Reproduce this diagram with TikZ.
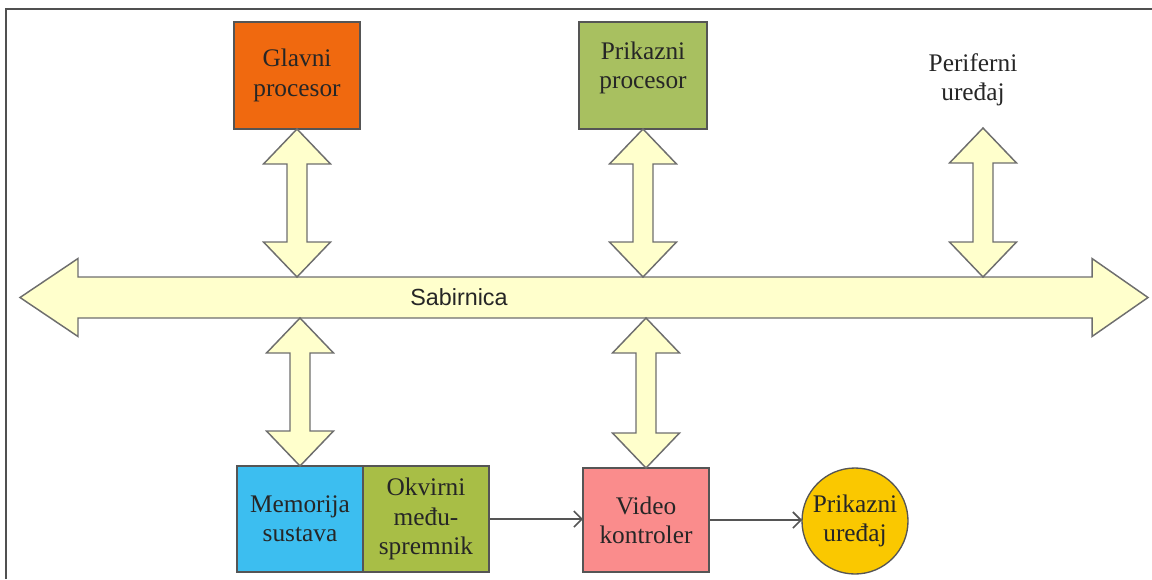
\documentclass[tikz,border=0pt]{standalone}
\usepackage{fontspec}
\setmainfont{Liberation Serif}
\newfontfamily\boxserif{Liberation Serif}
\newfontfamily\bussans{Liberation Sans}
\usetikzlibrary{calc,arrows.meta}

\definecolor{cpuorange}{RGB}{240,105,15}
\definecolor{gpugreen}{RGB}{168,192,96}
\definecolor{memblue}{RGB}{60,190,240}
\definecolor{fbgreen}{RGB}{168,190,70}
\definecolor{vidpink}{RGB}{250,140,140}
\definecolor{dispgold}{RGB}{250,200,0}
\definecolor{busyellow}{RGB}{255,255,204}
\definecolor{edgegray}{RGB}{85,85,85}
\definecolor{framegray}{RGB}{80,80,80}

% vertical two-headed block arrow from top tip #1 to bottom tip #2
\newcommand\vlink[2]{%
  \draw[blockarrow] (#1) -- ++(33.5,35) -- ++(-23.5,0)
    -- ($(#2)+(10,-35)$) -- ++(23.5,0) -- (#2)
    -- ++(-33.5,-35) -- ++(23.5,0)
    -- ($(#1)+(-10,35)$) -- ++(-23.5,0) -- cycle;}

\begin{document}
\begin{tikzpicture}[x=0.75pt,y=-0.75pt,
  unit/.style={draw=edgegray, line width=1pt, align=center, inner sep=0pt,
    outer sep=0pt, text=black!85,
    font=\boxserif\fontsize{19}{22}\selectfont},
  plain/.style={align=center, inner sep=0pt, text=black!85,
    font=\boxserif\fontsize{19}{22}\selectfont},
  blockarrow/.style={draw=edgegray!85, fill=busyellow, line width=1.1pt,
    line join=miter},
  link/.style={draw=edgegray, line width=1pt,
    -{Straight Barb[length=6pt,width=12pt,line width=1.2pt]}},
]
\useasboundingbox (0,0) rectangle (1152,579);

% frame
\draw[framegray, line width=1.5pt] (6,579) -- (6,8.5) -- (1152,8.5);

% units
\node[unit, fill=cpuorange, minimum width=94.5pt, minimum height=80.25pt]
  (glavni) at (297,75.5) {Glavni\\procesor};
\node[unit, fill=gpugreen, minimum width=96pt, minimum height=80.25pt]
  (prikproc) at (643,75.5) {Prikazni\\procesor\\[-7pt]\mbox{}};
\node[plain] (periferni) at (973,80) {Periferni\\uređaj};

\node[unit, fill=memblue, minimum width=94.5pt, minimum height=79.5pt]
  (memorija) at (300,519) {Memorija\\sustava};
\node[unit, fill=fbgreen, minimum width=94.5pt, minimum height=79.5pt]
  (okvirni) at (426,519) {Okvirni\\među-\\spremnik};
\node[unit, fill=vidpink, minimum width=94.5pt, minimum height=78pt]
  (video) at (646,520) {Video\\kontroler};
\node[unit, circle, fill=dispgold, minimum size=79.5pt]
  (zaslon) at (855,521) {Prikazni\\uređaj};

% bus shaft and its ends
\node[inner sep=0pt, outer sep=0pt, minimum width=760.5pt,
  minimum height=30.75pt] (bus) at (585,297.5) {};
\coordinate (busL) at ($(bus.west)+(-58,0)$);
\coordinate (busR) at ($(bus.east)+(56,0)$);
\draw[blockarrow] (busL) -- ++(58,-39) -- ++(0,18.5)
  -- ($(busR)+(-56,-20.5)$) -- ++(0,-18.5) -- (busR)
  -- ++(-56,39) -- ++(0,-18.5)
  -- ($(busL)+(58,20.5)$) -- ++(0,18.5) -- cycle;
\node[inner sep=0pt, text=black!85, font=\bussans\fontsize{17.5}{20}\selectfont]
  (buslabel) at (459,297.5) {Sabirnica};

% links to the bus
\coordinate (pertip) at (983,128);
\vlink{glavni.south}{glavni.south |- bus.north}
\vlink{prikproc.south}{prikproc.south |- bus.north}
\vlink{pertip}{pertip |- bus.north}
\vlink{memorija.north |- bus.south}{memorija.north}
\vlink{video.north |- bus.south}{video.north}

% data flow to the display
\draw[link] (okvirni.east) -- (okvirni.east -| video.west);
\draw[link] (video.east) -- (video.east -| zaslon.west);
\end{tikzpicture}
\end{document}
